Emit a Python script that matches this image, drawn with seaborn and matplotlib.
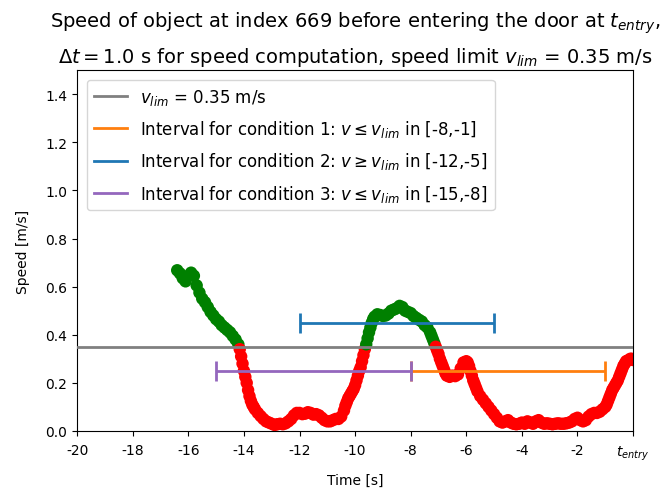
import matplotlib
matplotlib.use("Agg")
import matplotlib.pyplot as plt
from matplotlib.lines import Line2D
import seaborn as sns
import pandas as pd

# ---- data ----
time_s = [
    -16.4, -16.3, -16.2, -16.1, -16.0, -15.9, -15.8, -15.7, -15.6, -15.5,
    -15.4, -15.3, -15.2, -15.1, -15.0, -14.9, -14.8, -14.7, -14.6, -14.5,
    -14.4, -14.3, -14.2,
    -14.15, -14.10, -14.05, -14.00, -13.95, -13.90, -13.85, -13.80, -13.75,
    -13.70, -13.65, -13.60,
    -13.5, -13.4, -13.3, -13.2, -13.1, -13.0, -12.9, -12.8, -12.7, -12.6,
    -12.5, -12.4, -12.3, -12.2, -12.1, -12.0, -11.9, -11.8, -11.7, -11.6,
    -11.5, -11.4, -11.3, -11.2, -11.1, -11.0, -10.9, -10.8, -10.7, -10.6,
    -10.5, -10.4, -10.35, -10.3, -10.25, -10.2, -10.15, -10.1, -10.05,
    -10.0, -9.95, -9.9, -9.85, -9.8, -9.75, -9.7, -9.65, -9.6, -9.55,
    -9.5, -9.45, -9.4, -9.35, -9.3,
    -9.2, -9.1, -9.0, -8.9, -8.8, -8.7, -8.6, -8.5, -8.4, -8.3,
    -8.2, -8.1, -8.0, -7.9, -7.8, -7.7, -7.6, -7.5, -7.4, -7.3,
    -7.25, -7.2, -7.15, -7.1, -7.05, -7.0, -6.95, -6.9, -6.85, -6.8,
    -6.75, -6.7, -6.6, -6.5, -6.4, -6.3, -6.2, -6.1, -6.0,
    -5.95, -5.9, -5.85, -5.8, -5.75, -5.7, -5.65, -5.6,
    -5.5, -5.4, -5.3, -5.2, -5.1, -5.0, -4.9, -4.8, -4.7, -4.6,
    -4.5, -4.4, -4.3, -4.2, -4.1, -4.0, -3.9, -3.8, -3.7, -3.6,
    -3.5, -3.4, -3.3, -3.2, -3.1, -3.0, -2.9, -2.8, -2.7, -2.6,
    -2.5, -2.4, -2.3, -2.2, -2.1, -2.0, -1.9, -1.8, -1.7, -1.6,
    -1.5, -1.4, -1.3, -1.2, -1.1, -1.0,
    -0.95, -0.9, -0.85, -0.8, -0.75, -0.7, -0.65, -0.6, -0.55, -0.5,
    -0.45, -0.4, -0.35, -0.3, -0.25, -0.2, -0.15, -0.1, -0.05, 0.0,
]
speed = [
    0.668, 0.655, 0.635, 0.622, 0.645, 0.658, 0.645, 0.605, 0.575, 0.550,
    0.535, 0.515, 0.495, 0.480, 0.465, 0.455, 0.440, 0.430, 0.420, 0.410,
    0.395, 0.380, 0.360,
    0.340, 0.310, 0.280, 0.250, 0.225, 0.200, 0.170, 0.145, 0.125,
    0.110, 0.100, 0.090,
    0.075, 0.062, 0.050, 0.040, 0.035, 0.030, 0.025, 0.028, 0.030, 0.028,
    0.032, 0.040, 0.050, 0.065, 0.075, 0.075, 0.070, 0.072, 0.078, 0.075,
    0.068, 0.070, 0.065, 0.055, 0.045, 0.040, 0.040, 0.045, 0.050, 0.050,
    0.060, 0.085, 0.105, 0.120, 0.135, 0.145, 0.155, 0.165, 0.175,
    0.190, 0.210, 0.230, 0.250, 0.265, 0.290, 0.315, 0.340, 0.360, 0.385,
    0.410, 0.430, 0.450, 0.465, 0.475,
    0.485, 0.482, 0.478, 0.480, 0.488, 0.500, 0.505, 0.510, 0.520, 0.515,
    0.500, 0.495, 0.490, 0.478, 0.470, 0.462, 0.455, 0.440, 0.430, 0.410,
    0.395, 0.380, 0.365, 0.350, 0.335, 0.320, 0.300, 0.285, 0.270, 0.255,
    0.240, 0.230, 0.225, 0.230, 0.228, 0.235, 0.260, 0.285, 0.290,
    0.285, 0.270, 0.250, 0.230, 0.210, 0.195, 0.180, 0.165,
    0.145, 0.130, 0.115, 0.100, 0.085, 0.070, 0.055, 0.040, 0.035, 0.040,
    0.045, 0.035, 0.030, 0.028, 0.030, 0.035, 0.030, 0.040, 0.035, 0.030,
    0.040, 0.045, 0.035, 0.030, 0.032, 0.030, 0.028, 0.030, 0.032, 0.030,
    0.030, 0.032, 0.035, 0.040, 0.050, 0.055, 0.045, 0.040, 0.045, 0.060,
    0.070, 0.075, 0.075, 0.080, 0.090, 0.100,
    0.110, 0.125, 0.140, 0.155, 0.170, 0.180, 0.190, 0.200, 0.210, 0.225,
    0.240, 0.255, 0.270, 0.280, 0.290, 0.292, 0.295, 0.300, 0.300, 0.295,
]

v_lim = 0.35
interval_names = ["Interval for condition 1: $v \\leq v_{lim}$ in [-8,-1]",
                  "Interval for condition 2: $v \\geq v_{lim}$ in [-12,-5]",
                  "Interval for condition 3: $v \\leq v_{lim}$ in [-15,-8]"]
interval_start = [-8, -12, -15]
interval_end = [-1, -5, -8]
interval_level = [0.25, 0.45, 0.25]
interval_colors = ["tab:orange", "tab:blue", "tab:purple"]

xtick_pos = [-20, -18, -16, -14, -12, -10, -8, -6, -4, -2, 0]
xtick_labels = ["-20", "-18", "-16", "-14", "-12", "-10", "-8", "-6", "-4", "-2",
                "$t_{entry}$"]

df = pd.DataFrame({"t": time_s, "v": speed})
df["state"] = ["above" if v > v_lim else "below" for v in df["v"]]

fig = plt.figure(figsize=(6.65, 4.89), dpi=100)
ax = fig.add_axes([0.116, 0.1166, 0.836, 0.738])

sns.scatterplot(data=df, x="t", y="v", hue="state",
                palette={"above": "green", "below": "red"},
                s=80, linewidth=0, legend=False, ax=ax, zorder=2)

ax.axhline(v_lim, color="gray", lw=2, zorder=3)

for s0, s1, lvl, c in zip(interval_start, interval_end, interval_level, interval_colors):
    ax.errorbar((s0 + s1) / 2, lvl, xerr=(s1 - s0) / 2, color=c, lw=2,
                capsize=7, capthick=2, fmt="none", zorder=4)

handles = [Line2D([], [], color="gray", lw=2)] + \
          [Line2D([], [], color=c, lw=2) for c in interval_colors]
labels = ["$v_{lim}$ = 0.35 m/s"] + interval_names
ax.legend(handles, labels, loc="upper left", fontsize=12, labelspacing=0.68,
          borderaxespad=0.6)

ax.set_xlim(-20, 0)
ax.set_ylim(0, 1.5)
ax.set_xticks(xtick_pos)
ax.set_xticklabels(xtick_labels)
ax.set_yticks([0.0, 0.2, 0.4, 0.6, 0.8, 1.0, 1.2, 1.4])
ax.tick_params(labelsize=10)
ax.tick_params(axis="x", pad=5.5)
ax.set_xlabel("Time [s]", fontsize=10, labelpad=8)
ax.set_ylabel("Speed [m/s]", fontsize=10, labelpad=11)
ax.set_title("Speed of object at index 669 before entering the door at $t_{entry}$,\n"
             "$\\Delta t = 1.0$ s for speed computation, speed limit $v_{lim}$ = 0.35 m/s",
             fontsize=14, linespacing=1.55)

fig.savefig("out.png", dpi=100)
